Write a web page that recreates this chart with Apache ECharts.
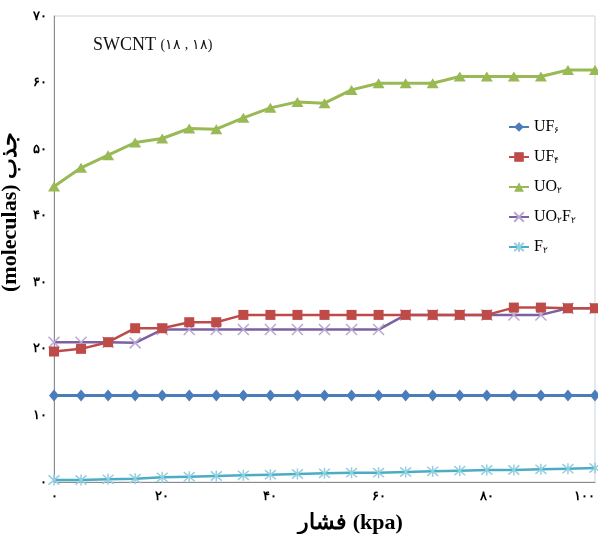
<!DOCTYPE html>
<html>
<head>
<meta charset="utf-8">
<script src="https://cdn.jsdelivr.net/npm/echarts@6/dist/echarts.min.js"></script>
<style>
  html, body { margin: 0; padding: 0; background: #fff; }
  #chart { width: 598px; height: 534px; }
</style>
</head>
<body>
<div id="chart"></div>
<script>
// Pressure (kPa) sampled every 5 kPa
const pressure = [0, 5, 10, 15, 20, 25, 30, 35, 40, 45, 50, 55, 60, 65, 70, 75, 80, 85, 90, 95, 100];

// Adsorbed molecules per species
const uf6   = [13, 13, 13, 13, 13, 13, 13, 13, 13, 13, 13, 13, 13, 13, 13, 13, 13, 13, 13, 13, 13];
const uf4   = [19.6, 20.0, 21.0, 23.1, 23.1, 24.0, 24.0, 25.1, 25.1, 25.1, 25.1, 25.1, 25.1, 25.1, 25.1, 25.1, 25.1, 26.2, 26.2, 26.1, 26.1];
const uo2   = [44.4, 47.2, 49.1, 51.0, 51.6, 53.1, 53.0, 54.7, 56.2, 57.1, 56.9, 58.9, 59.9, 59.9, 59.9, 60.9, 60.9, 60.9, 60.9, 61.9, 61.9];
const uo2f2 = [21.0, 21.0, 21.0, 20.9, 22.9, 22.9, 22.9, 22.9, 22.9, 22.9, 22.9, 22.9, 22.9, 25.1, 25.1, 25.1, 25.1, 25.1, 25.1, 26.1, 26.1];
const f2    = [0.3, 0.3, 0.4, 0.5, 0.7, 0.8, 0.9, 1.0, 1.1, 1.2, 1.3, 1.4, 1.4, 1.5, 1.6, 1.7, 1.8, 1.8, 1.9, 2.0, 2.1];

// Series names (Persian digits as chemical subscripts)
const seriesNames = ['UF۶', 'UF۴', 'UO۲', 'UO۲F۲', 'F۲'];

// Tick labels
const xTickLabels = { 0: '۰', 20: '۲۰', 40: '۴۰', 60: '۶۰', 80: '۸۰', 100: '۱۰۰' };
const yTickLabels = { 0: '۰', 10: '۱۰', 20: '۲۰', 30: '۳۰', 40: '۴۰', 50: '۵۰', 60: '۶۰', 70: '۷۰' };

const titleText = 'SWCNT ';
const titleSub = '(۱۸ , ۱۸)';
const xName = 'فشار (kpa)';
const yName = '(moleculas) جذب';

const pairs = vals => pressure.map((p, i) => [p, vals[i]]);

const crossPath = 'path://M0,0L10,10M10,0L0,10';
const starPath = 'path://M0,0L10,10M10,0L0,10M5,-1L5,11';

const serif = '"Liberation Serif", "DejaVu Serif", serif';

const chart = echarts.init(document.getElementById('chart'), null, { renderer: 'canvas' });

chart.setOption({
  animation: false,
  backgroundColor: '#ffffff',
  title: {
    text: '{a|' + titleText + '}{b|' + titleSub + '}',
    left: 88,
    top: 31,
    textStyle: {
      fontWeight: 'normal',
      rich: {
        a: { fontFamily: serif, fontSize: 18, fontWeight: 'normal', color: '#111' },
        b: { fontFamily: serif, fontSize: 14, fontWeight: 'normal', color: '#111' }
      }
    }
  },
  legend: {
    orient: 'vertical',
    left: 503,
    top: 114,
    itemWidth: 20,
    itemHeight: 12,
    itemGap: 14,
    data: seriesNames,
    formatter: name => name.replace(/([۰-۹]+)/g, '{s|$1}').replace(/(^|\})([^{]+?)(?=\{|$)/g, '$1{m|$2}'),
    textStyle: {
      rich: {
        m: { fontFamily: serif, fontSize: 16, color: '#000' },
        s: { fontFamily: serif, fontSize: 9, color: '#000', padding: [7, 0, 0, 0] }
      }
    }
  },
  grid: {
    left: 54,
    right: 3,
    top: 16,
    bottom: 52,
    containLabel: false,
    outerBoundsMode: 'none',
    show: true,
    borderColor: '#cdd3dc',
    borderWidth: 1
  },
  xAxis: {
    type: 'value',
    min: 0,
    max: 100,
    interval: 20,
    name: xName,
    nameLocation: 'middle',
    nameGap: 30,
    nameTextStyle: { fontFamily: serif, fontSize: 22, fontWeight: 'bold', color: '#000', padding: [0, 0, 0, 52] },
    axisLine: { lineStyle: { color: '#8c8c8c', width: 1 } },
    axisTick: { show: false },
    splitLine: { show: false },
    axisLabel: {
      margin: 8,
      alignMaxLabel: 'right',
      fontWeight: 'bold',
      fontSize: 13,
      color: '#000',
      formatter: v => xTickLabels[v] ?? ''
    }
  },
  yAxis: {
    type: 'value',
    min: 0,
    max: 70,
    interval: 10,
    name: yName,
    nameLocation: 'middle',
    nameRotate: 90,
    nameGap: 33,
    nameTextStyle: { fontFamily: serif, fontSize: 22, fontWeight: 'bold', color: '#000', padding: [0, 0, 0, 74] },
    axisLine: { show: true, lineStyle: { color: '#8c8c8c', width: 1 } },
    axisTick: { show: false },
    splitLine: { show: false },
    axisLabel: {
      margin: 7,
      fontWeight: 'bold',
      fontSize: 13,
      color: '#000',
      formatter: v => yTickLabels[v] ?? ''
    }
  },
  series: [
    {
      name: seriesNames[0],
      type: 'line',
      data: pairs(uf6),
      symbol: 'diamond',
      symbolSize: [10, 12],
      lineStyle: { color: '#4a7ebb', width: 3 },
      itemStyle: { color: '#4a7ebb' },
      z: 3
    },
    {
      name: seriesNames[1],
      type: 'line',
      data: pairs(uf4),
      symbol: 'rect',
      symbolSize: 10,
      lineStyle: { color: '#be4b48', width: 2.5 },
      itemStyle: { color: '#be4b48' },
      z: 4
    },
    {
      name: seriesNames[2],
      type: 'line',
      data: pairs(uo2),
      symbol: 'triangle',
      symbolSize: [12, 10],
      lineStyle: { color: '#98b954', width: 3 },
      itemStyle: { color: '#98b954' },
      z: 3
    },
    {
      name: seriesNames[3],
      type: 'line',
      data: pairs(uo2f2),
      symbol: crossPath,
      symbolSize: 11,
      lineStyle: { color: '#7d60a0', width: 2.5 },
      itemStyle: { color: 'rgba(0,0,0,0)', borderColor: '#b7a9d4', borderWidth: 1.5 },
      z: 3
    },
    {
      name: seriesNames[4],
      type: 'line',
      data: pairs(f2),
      symbol: starPath,
      symbolSize: 11,
      lineStyle: { color: '#4bacc6', width: 2.5 },
      itemStyle: { color: 'rgba(0,0,0,0)', borderColor: '#93cfdf', borderWidth: 1.5 },
      z: 3
    }
  ]
});
</script>
</body>
</html>
